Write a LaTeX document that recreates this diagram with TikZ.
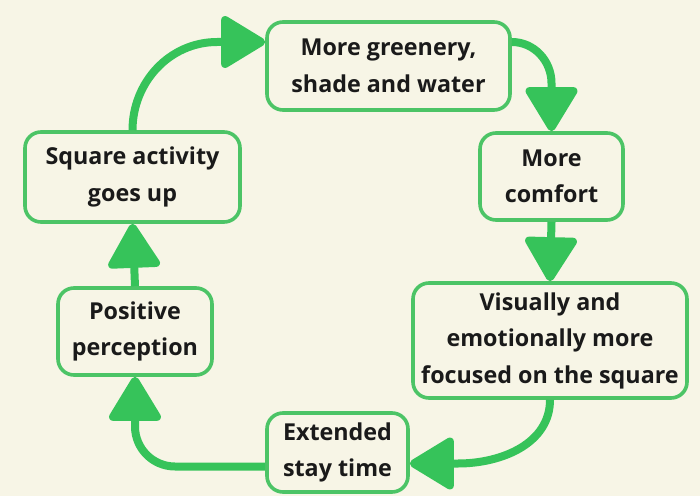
\documentclass[tikz,border=0pt]{standalone}
\usepackage{fontspec}
\setmainfont{Open Sans}
\usetikzlibrary{arrows.meta,calc}
\definecolor{bgcream}{HTML}{F7F5E6}
\definecolor{leaf}{HTML}{36C35A}
\definecolor{leafedge}{HTML}{4CC466}
\definecolor{ink}{HTML}{1A1A1A}
\tikzset{
  x=1pt, y=1pt,
  box/.style={draw=leafedge, line width=3.6pt, rounded corners=16pt,
    align=center, inner sep=1pt, text=ink,
    font=\bfseries\fontsize{23.3}{36.5}\selectfont},
  flow/.style={draw=leaf, line width=8pt,
    -{Triangle[length=48pt,width=56pt,round]}},
}
\begin{document}
\begin{tikzpicture}
  \fill[bgcream] (0,0) rectangle (700,496);
  \useasboundingbox (0,0) rectangle (700,496);

  % the six stages of the loop
  \node[box, minimum width=243pt, minimum height=88pt] (gr) at (388.5,430)
    {More greenery,\\shade and water};
  \node[box, minimum width=143pt, minimum height=87pt] (cf) at (551.5,319.5)
    {More\\comfort};
  \node[box, minimum width=274pt, minimum height=115pt] (vs) at (550,155.5)
    {Visually and\\emotionally more\\focused on the square};
  \node[box, minimum width=141pt, minimum height=79pt] (ex) at (337.5,43.5)
    {Extended\\stay time};
  \node[box, minimum width=154pt, minimum height=87pt] (pp) at (135,164.5)
    {Positive\\perception};
  \node[box, minimum width=215pt, minimum height=90pt] (sq) at (132.5,319)
    {Square activity\\goes up};

  % connectors
  \draw[flow] (sq.north) to[out=90,in=180] ([xshift=-48pt,yshift=24pt]gr.west)
    -- ([yshift=24pt]gr.west);
  \draw[flow] ([yshift=24pt]gr.east) to[out=0,in=90] ([yshift=48pt]cf.north)
    -- (cf.north);
  \draw[flow] (cf.south) -- (vs.north);
  \draw[flow] (vs.south) to[out=-90,in=0] ([xshift=48pt,yshift=-11pt]ex.east)
    -- ([yshift=-11pt]ex.east);
  \draw[flow, rounded corners=40pt] ([yshift=-14pt]ex.west) -| (pp.south);
  \draw[flow] (pp.north) -- (sq.south);
\end{tikzpicture}
\end{document}
